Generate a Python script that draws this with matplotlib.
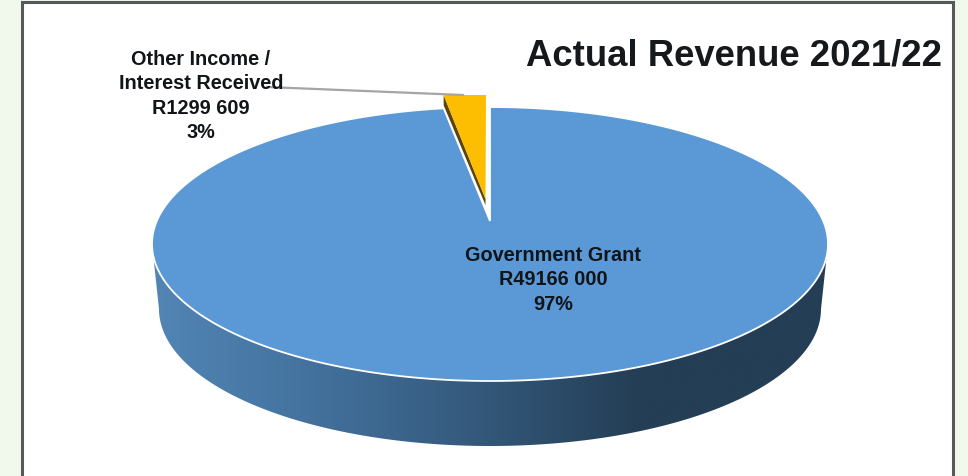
import numpy as np
import matplotlib
matplotlib.use("Agg")
import matplotlib.pyplot as plt
from matplotlib.colors import LinearSegmentedColormap
from matplotlib.patches import Polygon

categories = ["Government Grant", "Other Income /\nInterest Received"]
amount_labels = ["R49166 000", "R1299 609"]
percent_labels = ["97%", "3%"]
amounts = [49166000, 1299609]
title = "Actual Revenue 2021/22"

W, H = 968, 477
cx, cy = 490, 245      # centre of the top ellipse
rx, ry = 338, 137
depth = 65
base_rx = 331          # the lower rim is a little narrower
apex = (490, 222)      # where the slices meet, pushed back by the perspective
foreshorten = 0.85     # slices at the far side look narrower

blue = "#5b99d6"
gold = "#fdbd00"
page = "#f1f8ec"

plt.rcParams["font.family"] = ["Liberation Sans", "DejaVu Sans"]

fig = plt.figure(figsize=(W / 100, H / 100), dpi=100, facecolor=page)
ax = fig.add_axes([0, 0, 1, 1])

# chart frame, open at the bottom
ax.add_patch(plt.Rectangle((22, 3), 931, H + 10, fc="white", ec="#55595a", lw=2.2))


def rim(a0, a1, n=300, dy=0, radius=rx):
    # a is clockwise from 12 o'clock, in degrees
    a = np.radians(np.linspace(a0, a1, n))
    return np.column_stack([cx + radius * np.sin(a), cy - ry * np.cos(a) + dy])


share = amounts[1] / sum(amounts) * 360 * foreshorten

# side wall with a left to right shading
front_top = rim(90, 270)
front_bottom = rim(270, 90, dy=depth, radius=base_rx)
wall = Polygon(np.vstack([front_top, front_bottom]), fc="none", ec="none")
ax.add_patch(wall)
shade = LinearSegmentedColormap.from_list(
    "wall", [(0, "#5285b5"), (0.22, "#44739f"), (0.45, "#365c80"), (0.72, "#243e55"), (1, "#243e55")])
img = ax.imshow(np.linspace(0, 1, 400).reshape(1, -1), cmap=shade, aspect="auto",
                extent=(cx - rx, cx + rx, H, 0), zorder=2)
img.set_clip_path(wall)
ax.set_xlim(0, W)
ax.set_ylim(H, 0)
ax.axis("off")

# main slice
top = np.vstack([[apex], rim(0, 360 - share)])
ax.add_patch(Polygon(top, fc=blue, ec="white", lw=1.3, zorder=3))

# pulled out slice, its top edge stops flat, and the dark cut face under it
edge = rim(360 - share, 360) + [0, -13]
edge[:, 1] = np.maximum(edge[:, 1], 96)
edge[:, 0] += np.linspace(0, -4, len(edge))
tip = np.array([485.5, 200])
left = edge[0]
ax.add_patch(Polygon([left, tip, tip + [0, 6], left + [0, 10]], fc="#5d4508", ec="none", zorder=4))
ax.add_patch(Polygon(np.vstack([[tip], edge]), fc=gold, ec="none", zorder=5))

# leader line to the small slice label
ax.plot([267, 463], [88, 96], color="#a5a5a5", lw=1.6, zorder=6)

text_kw = dict(ha="center", va="center", color="#111418", fontweight="bold", fontsize=14.3,
               linespacing=1.35, zorder=7)
ax.text(201, 96, "\n".join([categories[1], amount_labels[1], percent_labels[1]]), **text_kw)
ax.text(553, 280, "\n".join([categories[0], amount_labels[0], percent_labels[0]]), **text_kw)
ax.text(734, 55.5, title, ha="center", va="center", color="#16191c", fontweight="bold",
        fontsize=26.3, zorder=7)

fig.savefig("out.png", dpi=100, facecolor=page)
